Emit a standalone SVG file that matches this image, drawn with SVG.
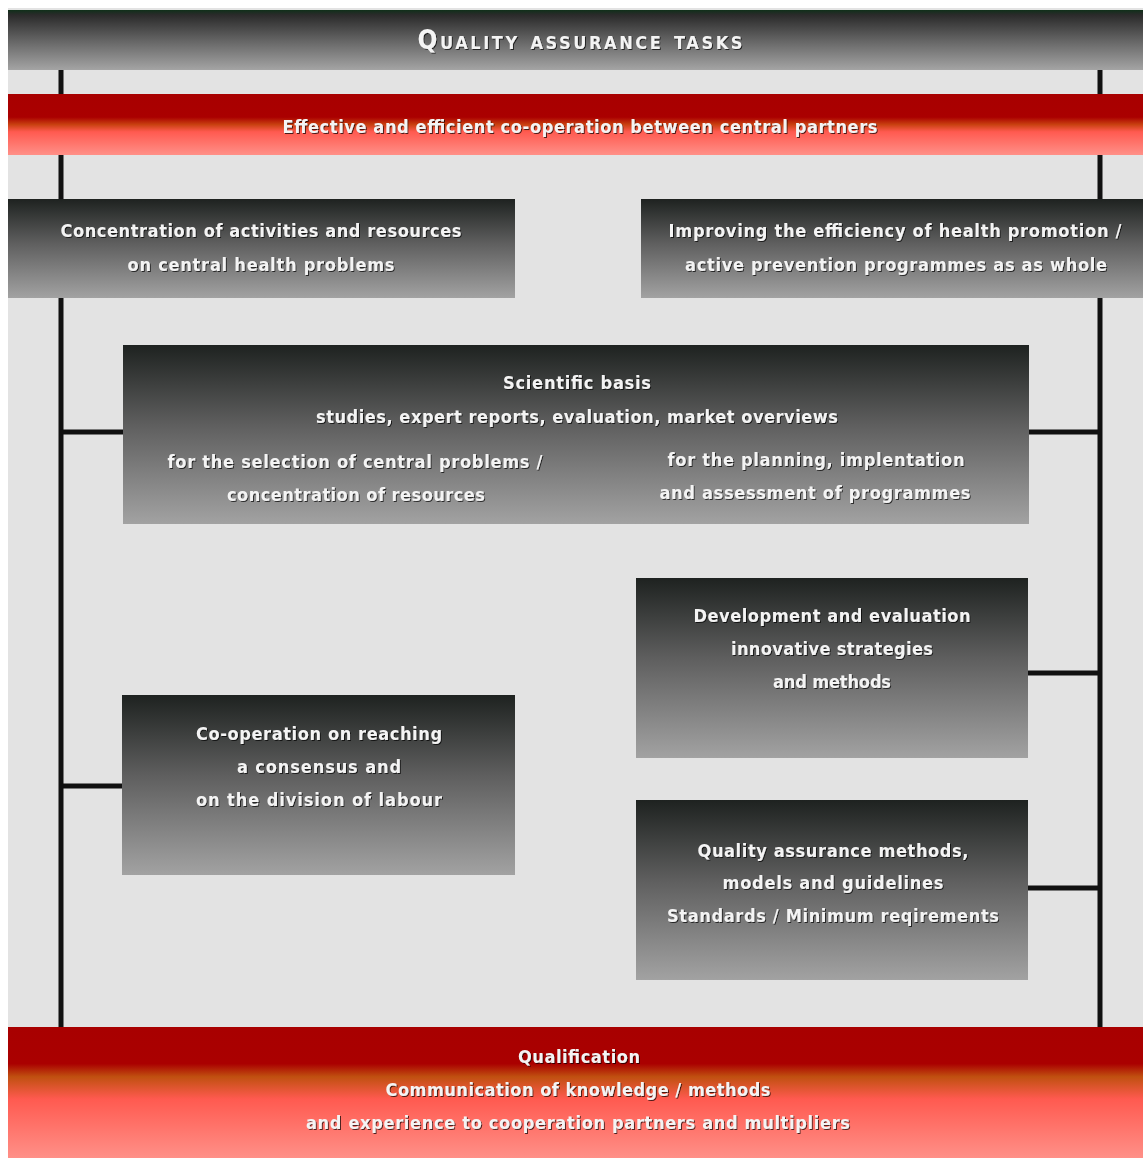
<svg xmlns="http://www.w3.org/2000/svg" width="1143" height="1160" viewBox="0 0 1143 1160">
<style>
.t{font-family:"DejaVu Sans Condensed","Liberation Sans Narrow","Liberation Sans",sans-serif;font-weight:bold;font-size:18px;fill:#f4f4f4;text-anchor:middle;filter:url(#sh)}
.ln{stroke:#111;stroke-width:5;fill:none}
</style>
<defs>
<filter id="sh" x="-5%" y="-30%" width="110%" height="160%"><feDropShadow dx="1" dy="1" stdDeviation="0.6" flood-color="#000" flood-opacity="0.7"/></filter>
<linearGradient id="gBox" x1="0" y1="0" x2="0" y2="1">
<stop offset="0" stop-color="#1e2220"/><stop offset="0.45" stop-color="#5f5f5f"/><stop offset="1" stop-color="#a2a2a2"/>
</linearGradient>
<linearGradient id="gTop" x1="0" y1="0" x2="0" y2="1">
<stop offset="0" stop-color="#10301a"/><stop offset="0.08" stop-color="#2a2a2a"/><stop offset="0.55" stop-color="#6a6a6a"/><stop offset="1" stop-color="#a4a4a4"/>
</linearGradient>
<linearGradient id="gRed" x1="0" y1="0" x2="0" y2="1">
<stop offset="0" stop-color="#a80000"/><stop offset="0.38" stop-color="#aa0000"/><stop offset="0.5" stop-color="#c84010"/><stop offset="0.62" stop-color="#ff5a50"/><stop offset="1" stop-color="#ff9088"/>
</linearGradient>
<linearGradient id="gRed2" x1="0" y1="0" x2="0" y2="1">
<stop offset="0" stop-color="#a80000"/><stop offset="0.28" stop-color="#aa0000"/><stop offset="0.38" stop-color="#c05010"/><stop offset="0.55" stop-color="#ff5a50"/><stop offset="1" stop-color="#ff9088"/>
</linearGradient>
</defs>
<rect x="0" y="0" width="1143" height="1160" fill="#ffffff"/>
<rect x="8" y="8" width="1135" height="1150" fill="#e3e3e3"/>
<g id="connectors">
<line class="ln" x1="61" y1="70" x2="61" y2="1027"/>
<line class="ln" x1="1100" y1="70" x2="1100" y2="1027"/>
<line class="ln" x1="61" y1="432" x2="123" y2="432"/>
<line class="ln" x1="1029" y1="432" x2="1100" y2="432"/>
<line class="ln" x1="1028" y1="673" x2="1100" y2="673"/>
<line class="ln" x1="61" y1="786" x2="122" y2="786"/>
<line class="ln" x1="1028" y1="888" x2="1100" y2="888"/>
</g>
<g id="title">
<rect x="8" y="10" width="1135" height="60" fill="url(#gTop)"/>
<text class="t" x="580" y="49" textLength="325" lengthAdjust="spacing" style="font-variant:small-caps;font-size:26px">Quality assurance tasks</text>
</g>
<g id="cooperation-bar">
<rect x="8" y="94" width="1135" height="61" fill="url(#gRed)"/>
<text class="t" x="580" y="133" textLength="595" lengthAdjust="spacing">Effective and efficient co-operation between central partners</text>
</g>
<g id="concentration">
<rect x="8" y="199" width="507" height="99" fill="url(#gBox)"/>
<text class="t" x="261" y="237" textLength="401" lengthAdjust="spacing">Concentration of activities and resources</text>
<text class="t" x="261" y="271" textLength="267" lengthAdjust="spacing">on central health problems</text>
</g>
<g id="efficiency">
<rect x="641" y="199" width="502" height="99" fill="url(#gBox)"/>
<text class="t" x="895" y="237" textLength="453" lengthAdjust="spacing">Improving the efficiency of health promotion /</text>
<text class="t" x="896" y="271" textLength="422" lengthAdjust="spacing">active prevention programmes as as whole</text>
</g>
<g id="scientific">
<rect x="123" y="345" width="906" height="179" fill="url(#gBox)"/>
<text class="t" x="577" y="389" textLength="148" lengthAdjust="spacing">Scientific basis</text>
<text class="t" x="577" y="423" textLength="522" lengthAdjust="spacing">studies, expert reports, evaluation, market overviews</text>
<text class="t" x="355" y="468" textLength="375" lengthAdjust="spacing">for the selection of central problems /</text>
<text class="t" x="356" y="501" textLength="258" lengthAdjust="spacing">concentration of resources</text>
<text class="t" x="816" y="466" textLength="297" lengthAdjust="spacing">for the planning, implentation</text>
<text class="t" x="815" y="499" textLength="311" lengthAdjust="spacing">and assessment of programmes</text>
</g>
<g id="development">
<rect x="636" y="578" width="392" height="180" fill="url(#gBox)"/>
<text class="t" x="832" y="622" textLength="277" lengthAdjust="spacing">Development and evaluation</text>
<text class="t" x="832" y="655" textLength="202" lengthAdjust="spacing">innovative strategies</text>
<text class="t" x="832" y="688" textLength="118" lengthAdjust="spacing">and methods</text>
</g>
<g id="consensus">
<rect x="122" y="695" width="393" height="180" fill="url(#gBox)"/>
<text class="t" x="319" y="740" textLength="246" lengthAdjust="spacing">Co-operation on reaching</text>
<text class="t" x="319" y="773" textLength="164" lengthAdjust="spacing">a consensus and</text>
<text class="t" x="319" y="806" textLength="246" lengthAdjust="spacing">on the division of labour</text>
</g>
<g id="quality-methods">
<rect x="636" y="800" width="392" height="180" fill="url(#gBox)"/>
<text class="t" x="833" y="857" textLength="271" lengthAdjust="spacing">Quality assurance methods,</text>
<text class="t" x="833" y="889" textLength="221" lengthAdjust="spacing">models and guidelines</text>
<text class="t" x="833" y="922" textLength="332" lengthAdjust="spacing">Standards / Minimum reqirements</text>
</g>
<g id="qualification">
<rect x="8" y="1027" width="1135" height="131" fill="url(#gRed2)"/>
<text class="t" x="579" y="1063" textLength="122" lengthAdjust="spacing">Qualification</text>
<text class="t" x="578" y="1096" textLength="385" lengthAdjust="spacing">Communication of knowledge / methods</text>
<text class="t" x="578" y="1129" textLength="544" lengthAdjust="spacing">and experience to cooperation partners and multipliers</text>
</g>
</svg>
